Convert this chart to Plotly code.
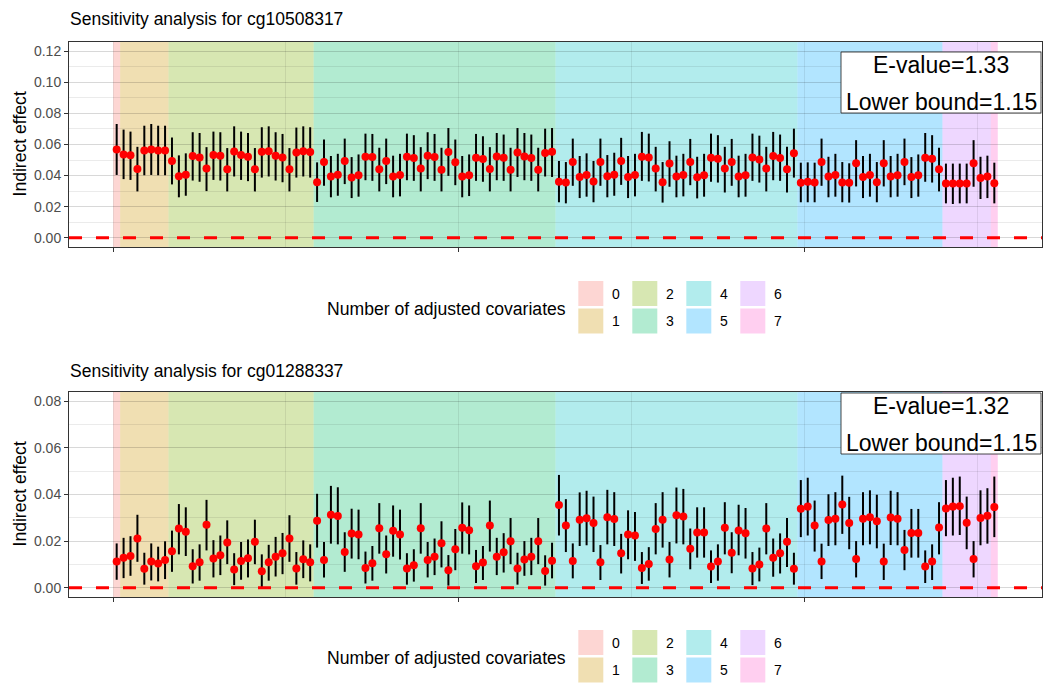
import numpy as np
import plotly.graph_objects as go

W, H = 1050, 692

# ---------------- data ----------------
group_labels = ["0", "1", "2", "3", "4", "5", "6", "7"]
group_sizes = [1, 7, 21, 35, 35, 21, 7, 1]
hue_colors = ["#F8766D", "#CD9600", "#7CAE00", "#00BE67",
              "#00BFC4", "#00A9FF", "#C77CFF", "#FF61CC"]

titles = ["Sensitivity analysis for cg10508317", "Sensitivity analysis for cg01288337"]
evalues = ["E-value=1.33", "E-value=1.32"]
lower_bounds = ["Lower bound=1.15", "Lower bound=1.15"]
ytick_vals = [[0.00, 0.02, 0.04, 0.06, 0.08, 0.10, 0.12], [0.00, 0.02, 0.04, 0.06, 0.08]]
y_ranges = [[-0.006, 0.126], [-0.004, 0.084]]

cg1_est = [0.0568, 0.0536, 0.0530, 0.0443, 0.0562, 0.0568, 0.0562, 0.0562,
           0.0494, 0.0396, 0.0406, 0.0526, 0.0517, 0.0445, 0.0532, 0.0528,
           0.0440, 0.0555, 0.0532, 0.0521, 0.0440, 0.0553, 0.0557, 0.0528,
           0.0517, 0.0440, 0.0549, 0.0557, 0.0551,
           0.0357, 0.0487, 0.0394, 0.0406, 0.0494, 0.0387, 0.0402, 0.0521,
           0.0519, 0.0440, 0.0494, 0.0394, 0.0404, 0.0521, 0.0513, 0.0445,
           0.0528, 0.0519, 0.0438, 0.0551, 0.0485, 0.0394, 0.0402, 0.0515,
           0.0506, 0.0443, 0.0523, 0.0515, 0.0438, 0.0549, 0.0523, 0.0513,
           0.0438, 0.0545, 0.0553,
           0.0360, 0.0355, 0.0487, 0.0391, 0.0404, 0.0362, 0.0487, 0.0396,
           0.0406, 0.0494, 0.0391, 0.0404, 0.0521, 0.0517, 0.0445, 0.0357,
           0.0477, 0.0394, 0.0404, 0.0487, 0.0389, 0.0402, 0.0515, 0.0509,
           0.0445, 0.0487, 0.0394, 0.0402, 0.0517, 0.0504, 0.0445, 0.0526,
           0.0513, 0.0440, 0.0543,
           0.0353, 0.0360, 0.0355, 0.0487, 0.0394, 0.0404, 0.0355, 0.0353,
           0.0479, 0.0391, 0.0404, 0.0357, 0.0479, 0.0394, 0.0402, 0.0487,
           0.0391, 0.0402, 0.0515, 0.0509, 0.0440,
           0.0349, 0.0349, 0.0349, 0.0349, 0.0479, 0.0385, 0.0394,
           0.0351]
cg1_lower = [0.0404, 0.0377, 0.0372, 0.0298, 0.0402, 0.0404, 0.0402, 0.0402,
             0.0343, 0.0260, 0.0270, 0.0368, 0.0360, 0.0300, 0.0372, 0.0368,
             0.0298, 0.0394, 0.0372, 0.0364, 0.0298, 0.0387, 0.0394, 0.0368,
             0.0357, 0.0298, 0.0387, 0.0394, 0.0387,
             0.0230, 0.0334, 0.0260, 0.0270, 0.0345, 0.0255, 0.0264, 0.0370,
             0.0366, 0.0298, 0.0345, 0.0260, 0.0266, 0.0370, 0.0366, 0.0298,
             0.0377, 0.0366, 0.0298, 0.0398, 0.0338, 0.0260, 0.0268, 0.0366,
             0.0360, 0.0298, 0.0370, 0.0366, 0.0298, 0.0391, 0.0370, 0.0366,
             0.0298, 0.0394, 0.0391,
             0.0228, 0.0221, 0.0334, 0.0255, 0.0264, 0.0228, 0.0334, 0.0260,
             0.0270, 0.0340, 0.0255, 0.0266, 0.0366, 0.0362, 0.0298, 0.0226,
             0.0328, 0.0260, 0.0266, 0.0338, 0.0253, 0.0264, 0.0360, 0.0355,
             0.0291, 0.0334, 0.0260, 0.0264, 0.0366, 0.0355, 0.0298, 0.0370,
             0.0366, 0.0291, 0.0387,
             0.0228, 0.0228, 0.0228, 0.0334, 0.0260, 0.0264, 0.0228, 0.0226,
             0.0330, 0.0255, 0.0264, 0.0228, 0.0330, 0.0260, 0.0264, 0.0338,
             0.0255, 0.0264, 0.0360, 0.0355, 0.0298,
             0.0221, 0.0217, 0.0221, 0.0221, 0.0328, 0.0249, 0.0255,
             0.0221]
cg1_upper = [0.0732, 0.0696, 0.0683, 0.0585, 0.0721, 0.0732, 0.0721, 0.0721,
             0.0645, 0.0530, 0.0543, 0.0679, 0.0674, 0.0583, 0.0683, 0.0679,
             0.0577, 0.0717, 0.0683, 0.0674, 0.0577, 0.0711, 0.0717, 0.0679,
             0.0668, 0.0577, 0.0709, 0.0717, 0.0711,
             0.0485, 0.0632, 0.0526, 0.0540, 0.0638, 0.0519, 0.0536, 0.0670,
             0.0668, 0.0579, 0.0638, 0.0528, 0.0540, 0.0670, 0.0660, 0.0583,
             0.0679, 0.0668, 0.0579, 0.0706, 0.0632, 0.0526, 0.0536, 0.0668,
             0.0653, 0.0583, 0.0674, 0.0664, 0.0579, 0.0706, 0.0674, 0.0664,
             0.0579, 0.0702, 0.0706,
             0.0494, 0.0487, 0.0638, 0.0526, 0.0543, 0.0494, 0.0638, 0.0532,
             0.0547, 0.0643, 0.0526, 0.0540, 0.0681, 0.0670, 0.0585, 0.0487,
             0.0621, 0.0528, 0.0540, 0.0636, 0.0521, 0.0540, 0.0670, 0.0660,
             0.0585, 0.0636, 0.0528, 0.0540, 0.0670, 0.0657, 0.0585, 0.0681,
             0.0664, 0.0585, 0.0702,
             0.0483, 0.0485, 0.0483, 0.0638, 0.0521, 0.0540, 0.0487, 0.0479,
             0.0628, 0.0526, 0.0540, 0.0487, 0.0628, 0.0526, 0.0540, 0.0638,
             0.0519, 0.0536, 0.0674, 0.0660, 0.0579,
             0.0477, 0.0477, 0.0477, 0.0477, 0.0628, 0.0521, 0.0528,
             0.0483]

cg2_est = [0.0112, 0.0128, 0.0136, 0.0211, 0.0081, 0.0112, 0.0104, 0.0119,
           0.0156, 0.0254, 0.0240, 0.0092, 0.0109, 0.0270, 0.0125, 0.0139,
           0.0194, 0.0078, 0.0115, 0.0126, 0.0197, 0.0071, 0.0109, 0.0133,
           0.0148, 0.0211, 0.0082, 0.0122, 0.0109,
           0.0287, 0.0119, 0.0313, 0.0308, 0.0153, 0.0233, 0.0228, 0.0085,
           0.0105, 0.0255, 0.0143, 0.0244, 0.0228, 0.0082, 0.0096, 0.0255,
           0.0119, 0.0133, 0.0191, 0.0075, 0.0165, 0.0257, 0.0247, 0.0092,
           0.0108, 0.0267, 0.0133, 0.0152, 0.0199, 0.0082, 0.0121, 0.0133,
           0.0199, 0.0072, 0.0116,
           0.0355, 0.0267, 0.0115, 0.0292, 0.0298, 0.0278, 0.0109, 0.0302,
           0.0295, 0.0148, 0.0228, 0.0224, 0.0084, 0.0102, 0.0252, 0.0292,
           0.0121, 0.0311, 0.0306, 0.0167, 0.0237, 0.0237, 0.0091, 0.0112,
           0.0257, 0.0150, 0.0245, 0.0234, 0.0082, 0.0099, 0.0254, 0.0129,
           0.0148, 0.0197, 0.0081,
           0.0339, 0.0348, 0.0267, 0.0112, 0.0291, 0.0296, 0.0357, 0.0278,
           0.0123, 0.0296, 0.0302, 0.0285, 0.0112, 0.0301, 0.0296, 0.0162,
           0.0235, 0.0235, 0.0091, 0.0112, 0.0258,
           0.0340, 0.0348, 0.0350, 0.0279, 0.0123, 0.0299, 0.0309,
           0.0346]
cg2_lower = [0.0034, 0.0041, 0.0051, 0.0111, 0.0013, 0.0031, 0.0027, 0.0037,
             0.0068, 0.0143, 0.0136, 0.0018, 0.0030, 0.0160, 0.0044, 0.0054,
             0.0101, 0.0011, 0.0034, 0.0044, 0.0101, 0.0003, 0.0030, 0.0048,
             0.0058, 0.0111, 0.0013, 0.0041, 0.0027,
             0.0172, 0.0044, 0.0189, 0.0186, 0.0068, 0.0125, 0.0122, 0.0018,
             0.0030, 0.0146, 0.0061, 0.0133, 0.0121, 0.0013, 0.0026, 0.0146,
             0.0044, 0.0054, 0.0087, 0.0009, 0.0075, 0.0146, 0.0143, 0.0020,
             0.0033, 0.0155, 0.0054, 0.0065, 0.0101, 0.0013, 0.0051, 0.0054,
             0.0101, 0.0009, 0.0040,
             0.0224, 0.0153, 0.0040, 0.0179, 0.0182, 0.0153, 0.0033, 0.0186,
             0.0179, 0.0061, 0.0122, 0.0115, 0.0016, 0.0030, 0.0143, 0.0172,
             0.0044, 0.0190, 0.0186, 0.0079, 0.0129, 0.0129, 0.0020, 0.0030,
             0.0143, 0.0062, 0.0139, 0.0125, 0.0011, 0.0027, 0.0143, 0.0047,
             0.0061, 0.0089, 0.0013,
             0.0217, 0.0224, 0.0155, 0.0037, 0.0179, 0.0182, 0.0231, 0.0165,
             0.0044, 0.0182, 0.0186, 0.0169, 0.0033, 0.0183, 0.0182, 0.0075,
             0.0129, 0.0129, 0.0020, 0.0033, 0.0143,
             0.0221, 0.0224, 0.0226, 0.0165, 0.0044, 0.0182, 0.0189,
             0.0217]
cg2_upper = [0.0190, 0.0214, 0.0221, 0.0313, 0.0150, 0.0190, 0.0176, 0.0199,
             0.0245, 0.0359, 0.0345, 0.0165, 0.0186, 0.0377, 0.0204, 0.0224,
             0.0289, 0.0148, 0.0196, 0.0207, 0.0292, 0.0143, 0.0184, 0.0218,
             0.0235, 0.0311, 0.0153, 0.0203, 0.0186,
             0.0403, 0.0196, 0.0437, 0.0431, 0.0238, 0.0339, 0.0335, 0.0155,
             0.0179, 0.0363, 0.0224, 0.0353, 0.0335, 0.0148, 0.0165, 0.0363,
             0.0196, 0.0211, 0.0285, 0.0140, 0.0252, 0.0366, 0.0353, 0.0162,
             0.0179, 0.0374, 0.0214, 0.0234, 0.0299, 0.0150, 0.0200, 0.0214,
             0.0299, 0.0139, 0.0193,
             0.0484, 0.0380, 0.0190, 0.0409, 0.0416, 0.0391, 0.0183, 0.0420,
             0.0410, 0.0231, 0.0332, 0.0325, 0.0153, 0.0174, 0.0363, 0.0410,
             0.0196, 0.0430, 0.0424, 0.0254, 0.0345, 0.0345, 0.0160, 0.0186,
             0.0367, 0.0238, 0.0356, 0.0342, 0.0153, 0.0172, 0.0363, 0.0211,
             0.0233, 0.0299, 0.0150,
             0.0462, 0.0472, 0.0374, 0.0189, 0.0401, 0.0410, 0.0481, 0.0390,
             0.0200, 0.0410, 0.0418, 0.0399, 0.0189, 0.0416, 0.0410, 0.0248,
             0.0338, 0.0338, 0.0160, 0.0186, 0.0367,
             0.0462, 0.0472, 0.0477, 0.0391, 0.0200, 0.0418, 0.0427,
             0.0477]

panels = [(cg1_est, cg1_lower, cg1_upper), (cg2_est, cg2_lower, cg2_upper)]

# ---------------- helpers ----------------
FONT = "Liberation Sans, Arial, Helvetica, sans-serif"
def px(x):
    return x / W
def py(y):
    return 1 - y / H

def rgba(hexc, a):
    hexc = hexc.lstrip("#")
    r, g, b = int(hexc[0:2], 16), int(hexc[2:4], 16), int(hexc[4:6], 16)
    return f"rgba({r},{g},{b},{a})"

ALPHA = 0.3
GRID = "rgba(0,0,0,0.08)"
edges = np.concatenate([[0], np.cumsum(group_sizes)])
n_total = int(edges[-1])
xpos = np.arange(n_total) + 0.5

fig = go.Figure()
shapes = []
annotations = []

PLOT_L, PLOT_R = 69, 1042
panel_tops = [42, 392]
PANEL_H = 205
legend_offsets = [0, 349]
title_offsets = [0, 352]

layout = dict(
    width=W, height=H,
    margin=dict(l=0, r=0, t=0, b=0),
    paper_bgcolor="white", plot_bgcolor="white",
    showlegend=False,
    font=dict(family=FONT, color="#000000"),
)

for k, (est, lo, up) in enumerate(panels):
    xa = "x" if k == 0 else f"x{k+1}"
    ya = "y" if k == 0 else f"y{k+1}"
    xkey = "xaxis" if k == 0 else f"xaxis{k+1}"
    ykey = "yaxis" if k == 0 else f"yaxis{k+1}"
    top = panel_tops[k]
    bot = top + PANEL_H
    est_a = np.array(est); lo_a = np.array(lo); up_a = np.array(up)

    fig.add_trace(go.Scatter(
        x=xpos, y=est_a, mode="markers", xaxis=xa, yaxis=ya,
        marker=dict(color="#FF0000", size=8, line=dict(width=0)),
        error_y=dict(type="data", symmetric=False, array=up_a - est_a,
                     arrayminus=est_a - lo_a, color="#000000", thickness=2, width=0),
        hoverinfo="skip",
    ))

    layout[xkey] = dict(
        domain=[px(PLOT_L), px(PLOT_R)], anchor=ya, range=[-6.4, 134.4],
        tickvals=[0, 50, 100], showticklabels=False, ticks="outside", ticklen=4,
        tickcolor="#333333", tickwidth=1,
        showgrid=True, gridcolor=GRID, gridwidth=1.1,
        minor=dict(tickvals=[25, 75, 125], showgrid=True, gridcolor=GRID, gridwidth=0.55, ticks=""),
        showline=True, linecolor="#333333", linewidth=1, mirror=True,
        zeroline=False, automargin=False,
    )
    layout[ykey] = dict(
        domain=[py(bot), py(top)], anchor=xa, range=y_ranges[k],
        tickvals=ytick_vals[k], ticktext=[f"{v:.2f}" for v in ytick_vals[k]],
        ticks="outside", ticklen=4, tickcolor="#333333", tickwidth=1,
        tickfont=dict(family=FONT, size=14, color="#4D4D4D"),
        showgrid=True, gridcolor=GRID, gridwidth=1.1,
        minor=dict(dtick=0.01, tick0=0, showgrid=True, gridcolor=GRID, gridwidth=0.55, ticks=""),
        showline=True, linecolor="#333333", linewidth=1, mirror=True,
        zeroline=False, automargin=False,
    )

    # background bands by number of covariates
    for g in range(len(group_sizes)):
        shapes.append(dict(type="rect", xref=xa, yref="paper",
                           x0=float(edges[g]), x1=float(edges[g + 1]), y0=py(bot), y1=py(top),
                           fillcolor=rgba(hue_colors[g], ALPHA), line=dict(width=0),
                           layer="below"))
    # dashed zero line
    shapes.append(dict(type="line", xref="paper", yref=ya, x0=px(PLOT_L), x1=px(PLOT_R), y0=0, y1=0,
                       line=dict(color="#FF0000", width=3, dash="13px,14px"), layer="above"))

    # E-value label box
    bt = top + 10 if k == 0 else top + 1
    shapes.append(dict(type="rect", xref="paper", yref="paper",
                       x0=px(841), x1=px(1041), y0=py(bt + 61), y1=py(bt),
                       fillcolor="white", line=dict(color="#1A1A1A", width=0.8), layer="above"))
    annotations.append(dict(text=evalues[k], xref="paper", yref="paper", x=px(941), y=py(bt + 13),
                            xanchor="center", yanchor="middle", showarrow=False,
                            font=dict(family=FONT, size=23, color="#000000")))
    annotations.append(dict(text=lower_bounds[k], xref="paper", yref="paper", x=px(941), y=py(bt + 50),
                            xanchor="center", yanchor="middle", showarrow=False,
                            font=dict(family=FONT, size=23, color="#000000")))

    # titles
    annotations.append(dict(text=titles[k], xref="paper", yref="paper", x=px(68), y=py(19 + title_offsets[k]),
                            xanchor="left", yanchor="middle", showarrow=False,
                            font=dict(family=FONT, size=17.5, color="#000000")))
    annotations.append(dict(text="Indirect effect", xref="paper", yref="paper", x=px(19), y=py(top + PANEL_H / 2),
                            xanchor="center", yanchor="middle", showarrow=False, textangle=-90,
                            font=dict(family=FONT, size=17.6, color="#000000")))

    # legend (drawn manually: 2 rows x 4 columns)
    lo_off = legend_offsets[k]
    annotations.append(dict(text="Number of adjusted covariates", xref="paper", yref="paper",
                            x=px(568), y=py(309 + lo_off), xanchor="right", yanchor="middle",
                            showarrow=False, font=dict(family=FONT, size=17.6, color="#000000")))
    for g, lab in enumerate(group_labels):
        col, row = g // 2, g % 2
        kx0 = 578.3 + col * 54.0
        ky0 = 281 + row * 27.5 + lo_off
        shapes.append(dict(type="rect", xref="paper", yref="paper",
                           x0=px(kx0), x1=px(kx0 + 25), y0=py(ky0 + 25), y1=py(ky0),
                           fillcolor=rgba(hue_colors[g], ALPHA), line=dict(width=0), layer="above"))
        annotations.append(dict(text=lab, xref="paper", yref="paper", x=px(kx0 + 32), y=py(ky0 + 12.5),
                                xanchor="left", yanchor="middle", showarrow=False,
                                font=dict(family=FONT, size=14, color="#000000")))

layout["shapes"] = shapes
layout["annotations"] = annotations
fig.update_layout(**layout)
fig.write_html("out.html", config={"displayModeBar": False},
               post_script="document.body.style.margin='0';document.body.style.padding='0';")
